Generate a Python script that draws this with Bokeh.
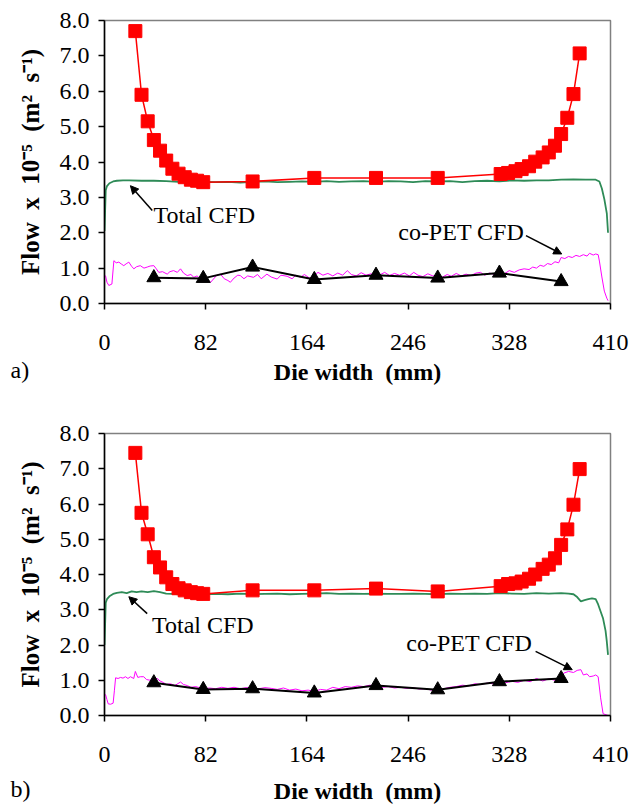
from bokeh.plotting import figure
from bokeh.models import Range1d, FixedTicker, Label, Arrow, NormalHead, Title
from bokeh.layouts import column
from bokeh.embed import file_html
from bokeh.resources import INLINE

# ---------------- data ----------------
x_ticks = [0, 82, 164, 246, 328, 410]
x_tick_labels = ["0", "82", "164", "246", "328", "410"]
y_ticks = [0, 1, 2, 3, 4, 5, 6, 7, 8]
y_tick_labels = ["0.0", "1.0", "2.0", "3.0", "4.0", "5.0", "6.0", "7.0", "8.0"]

# red squares (total flow, experimental)
red_x = [25, 30, 35, 40, 45, 50, 55, 60, 65, 70, 75, 80, 120, 170, 220, 270,
         321, 327, 333, 338, 344, 349, 355, 360, 365, 370, 375, 380, 385]
red_a_y = [7.70, 5.90, 5.15, 4.62, 4.32, 4.04, 3.81, 3.67, 3.57, 3.50, 3.47, 3.43,
           3.45, 3.55, 3.55, 3.55,
           3.66, 3.69, 3.74, 3.80, 3.88, 4.01, 4.13, 4.27, 4.46, 4.79, 5.25, 5.92, 7.07]
red_b_y = [7.45, 5.75, 5.14, 4.49, 4.20, 3.92, 3.73, 3.61, 3.55, 3.50, 3.47, 3.45,
           3.55, 3.55, 3.60, 3.52,
           3.67, 3.73, 3.75, 3.80, 3.88, 4.00, 4.16, 4.28, 4.46, 4.84, 5.28, 5.98, 6.99]

# black triangles (co-PET flow, experimental)
tri_x = [40, 80, 120, 170, 220, 270, 320, 370]
tri_a_y = [0.73, 0.71, 1.03, 0.68, 0.80, 0.72, 0.86, 0.62]
tri_b_y = [0.93, 0.74, 0.76, 0.64, 0.85, 0.73, 0.96, 1.05]

# green line (Total CFD)
green_a_x = [0, 1, 2, 4, 7, 10, 15, 20, 30, 40, 50, 60, 70, 80, 90, 100, 110, 120, 130,
             140, 150, 160, 170, 180, 190, 200, 210, 220, 230, 240, 250, 260, 270, 280,
             290, 300, 310, 320, 330, 340, 350, 360, 370, 380, 390, 398, 401, 403, 405,
             407, 408]
green_a_y = [2.05, 3.20, 3.32, 3.40, 3.45, 3.47, 3.48, 3.48, 3.47, 3.47, 3.46, 3.44, 3.43,
             3.44, 3.43, 3.44, 3.42, 3.44, 3.45, 3.43, 3.44, 3.45, 3.44, 3.46, 3.44, 3.45,
             3.46, 3.44, 3.46, 3.45, 3.43, 3.46, 3.45, 3.46, 3.43, 3.46, 3.47, 3.45, 3.48,
             3.47, 3.48, 3.48, 3.50, 3.51, 3.50, 3.50, 3.45, 3.25, 2.95, 2.55, 2.00]
green_b_x = [0, 1, 2, 4, 7, 10, 14, 18, 22, 26, 30, 35, 40, 45, 50, 55, 60, 70, 80, 90,
             100, 110, 120, 130, 140, 150, 160, 170, 180, 190, 200, 210, 220, 230, 240,
             250, 260, 270, 280, 290, 300, 310, 320, 330, 340, 350, 360, 370, 376, 380,
             383, 386, 389, 392, 395, 398, 400, 402, 404, 406, 407, 408]
green_b_y = [2.00, 3.20, 3.30, 3.38, 3.45, 3.48, 3.50, 3.47, 3.52, 3.50, 3.52, 3.50, 3.53,
             3.50, 3.46, 3.45, 3.44, 3.45, 3.44, 3.45, 3.44, 3.46, 3.44, 3.45, 3.46, 3.44,
             3.45, 3.46, 3.47, 3.45, 3.46, 3.45, 3.46, 3.45, 3.45, 3.46, 3.45, 3.44, 3.46,
             3.45, 3.46, 3.45, 3.47, 3.46, 3.45, 3.47, 3.46, 3.47, 3.46, 3.44, 3.36, 3.24,
             3.27, 3.30, 3.32, 3.30, 3.15, 2.95, 2.75, 2.40, 2.10, 1.72]

# magenta line (co-PET CFD)
mag_a_x = [0.8, 2, 3.5, 6, 7.6, 9.5, 11.6, 13.5, 15.6, 17.5, 19.7, 22, 23.8, 26, 29, 32,
           34.6, 37, 40, 42, 44, 47, 50.8, 53, 56, 59, 61.6, 64, 67, 70, 72.4, 75, 77.8,
           80, 83, 86, 89, 91, 94, 97, 100, 102, 105, 108, 110, 113, 116, 120.7, 124, 127,
           131.6, 135, 139.9, 143, 148, 152, 155, 158.8, 162, 166, 169.5, 173, 177, 181,
           185, 189, 193, 196.7, 200, 204, 208, 212, 216, 220, 223.7, 227, 231, 235, 239,
           243, 247, 250.6, 254, 258, 262, 266, 270, 274, 277.7, 281, 285, 289, 293, 297,
           301, 304.7, 308, 312, 316, 320, 324, 328, 332, 336, 340, 344, 347, 350, 353,
           356, 359, 362, 365, 368, 370, 373, 376, 379, 382, 385, 388, 391, 393, 396, 398,
           400, 401, 403, 405, 407, 408]
mag_a_y = [0.79, 0.60, 0.51, 0.55, 1.21, 1.15, 1.17, 1.12, 1.07, 1.12, 1.17, 1.05, 0.98,
           1.04, 1.07, 1.00, 1.03, 1.06, 1.07, 0.98, 0.88, 0.90, 0.83, 0.90, 0.93, 0.88,
           0.98, 0.86, 0.79, 0.82, 0.74, 0.78, 0.69, 0.75, 0.66, 0.60, 0.72, 0.80, 0.83,
           0.70, 0.65, 0.60, 0.72, 0.80, 0.79, 0.70, 0.78, 0.74, 0.82, 0.70, 0.83, 0.75,
           0.69, 0.80, 0.77, 0.70, 0.80, 0.74, 0.82, 0.72, 0.77, 0.88, 0.80, 0.85, 0.78,
           0.86, 0.80, 0.93, 0.82, 0.78, 0.87, 0.80, 0.84, 0.78, 0.82, 0.88, 0.79, 0.85,
           0.80, 0.86, 0.78, 0.88, 0.80, 0.76, 0.84, 0.78, 0.80, 0.75, 0.82, 0.77, 0.85,
           0.78, 0.83, 0.79, 0.86, 0.88, 0.80, 0.86, 0.82, 0.87, 0.84, 0.93, 0.88, 0.95,
           0.98, 0.96, 1.03, 1.00, 1.08, 1.05, 1.13, 1.10, 1.18, 1.15, 1.30, 1.27, 1.33,
           1.30, 1.36, 1.33, 1.38, 1.34, 1.42, 1.37, 1.40, 1.38, 1.20, 0.75, 0.35, 0.15,
           0.08]
mag_b_x = [0.8, 2, 3, 5, 7, 8, 9, 11, 13, 15, 17, 19, 21, 23.7, 25, 27, 29, 31.8, 34, 37,
           40, 42.7, 45, 48, 50, 53.5, 57, 61.6, 64, 67, 70, 74, 77.8, 81, 85, 90, 95, 100,
           105, 110, 115, 120, 125, 130, 135, 140, 145, 150, 155, 160, 165, 170, 175, 180,
           185, 190, 195, 200, 205, 210, 215, 220, 225, 230, 235, 240, 245, 250, 255, 260,
           265, 270, 275, 280, 285, 290, 295, 300, 305, 310, 315, 320, 325, 330, 335, 340,
           345, 350, 355, 360, 365, 369, 372, 376, 380, 383, 386, 388, 391, 393, 396, 398,
           400, 402, 404, 408]
mag_b_y = [0.60, 0.45, 0.33, 0.32, 0.35, 0.70, 1.07, 1.05, 1.08, 1.06, 1.10, 1.05, 1.10,
           1.05, 1.25, 1.08, 1.10, 1.10, 1.02, 1.00, 1.05, 1.05, 0.98, 0.93, 0.88, 0.90,
           0.85, 0.95, 0.88, 0.85, 0.80, 0.82, 0.78, 0.76, 0.78, 0.76, 0.80, 0.77, 0.80,
           0.76, 0.79, 0.78, 0.76, 0.79, 0.77, 0.74, 0.78, 0.72, 0.75, 0.70, 0.72, 0.68,
           0.74, 0.72, 0.80, 0.76, 0.82, 0.80, 0.84, 0.82, 0.86, 0.83, 0.80, 0.82, 0.78,
           0.80, 0.77, 0.79, 0.75, 0.76, 0.72, 0.74, 0.76, 0.80, 0.82, 0.86, 0.84, 0.90,
           0.88, 0.92, 0.90, 0.95, 0.93, 0.97, 0.94, 1.00, 0.96, 1.05, 0.98, 1.04, 1.00,
           1.07, 1.20, 1.25, 1.22, 1.28, 1.30, 1.15, 1.18, 1.10, 1.12, 1.15, 1.10, 0.50,
           0.05, 0.00]

x_title = "Die width \u00a0(mm)"
y_title = "Flow \u00a0x \u00a010\u207b\u2075 \u00a0(m\u00b2 \u00a0s\u207b\u00b9)"
label_total = "Total CFD"
label_copet = "co-PET CFD"

FONT = "Liberation Serif"


def make_panel(red_y, tri_y, gx, gy, mx, my, panel_tag, xlabel_standoff, top_border,
               bottom_border, total_txt, total_arrow, copet_txt, copet_arrow):
    p = figure(width=630, height=403, output_backend="svg", toolbar_location=None,
               x_range=Range1d(0, 410), y_range=Range1d(0, 8),
               min_border_left=104, min_border_right=20,
               min_border_top=top_border, min_border_bottom=bottom_border)
    p.grid.visible = False
    p.outline_line_color = "#808080"
    p.outline_line_width = 1.5
    p.background_fill_color = "white"
    p.border_fill_color = "white"

    p.line(gx, gy, color="#2e8b57", line_width=1.8)
    p.line(mx, my, color="#ff00ff", line_width=1)
    p.line(tri_x, tri_y, color="black", line_width=2)
    p.scatter(tri_x, tri_y, marker="triangle", size=14, color="black")
    p.line(red_x, red_y, color="#ff0000", line_width=1.5)
    p.scatter(red_x, red_y, marker="square", size=13, color="#ff0000")

    for ax in (p.xaxis[0], p.yaxis[0]):
        ax.axis_line_color = "black"
        ax.axis_line_width = 1.5
        ax.major_tick_line_color = "black"
        ax.major_tick_line_width = 1.5
        ax.major_tick_in = 0
        ax.major_tick_out = 6
        ax.minor_tick_line_color = None
        ax.major_label_text_font = FONT
        ax.major_label_text_font_size = "24px"
        ax.major_label_text_color = "black"
        ax.axis_label_text_font = FONT
        ax.axis_label_text_font_style = "bold"
        ax.axis_label_text_font_size = "24px"
        ax.axis_label_text_color = "black"
    p.yaxis.axis_label_text_font_size = "25px"

    p.xaxis.ticker = FixedTicker(ticks=x_ticks)
    p.xaxis.major_label_overrides = dict(zip(x_ticks, x_tick_labels))
    p.xaxis.major_label_standoff = 25
    p.xaxis.axis_label = x_title
    p.xaxis.axis_label_standoff = xlabel_standoff

    p.yaxis.ticker = FixedTicker(ticks=y_ticks)
    p.yaxis.major_label_overrides = dict(zip(y_ticks, y_tick_labels))
    p.yaxis.major_label_standoff = 9
    p.yaxis.axis_label = y_title
    p.yaxis.axis_label_standoff = 13

    for txt, tpos, apos in ((label_total, total_txt, total_arrow),
                            (label_copet, copet_txt, copet_arrow)):
        p.add_layout(Label(x=tpos[0], y=tpos[1], text=txt, text_font=FONT,
                           text_font_size="24px", text_color="black",
                           text_align="left", text_baseline="middle"))
        p.add_layout(Arrow(x_start=apos[0], y_start=apos[1], x_end=apos[2], y_end=apos[3],
                           line_color="black", line_width=1.5,
                           end=NormalHead(size=8, fill_color="black", line_color="black")))

    p.add_layout(Title(text=panel_tag, align="left", offset=-94, standoff=-62,
                       vertical_align="top", text_font=FONT, text_font_size="24px",
                       text_font_style="normal", text_color="black"), "below")
    return p


p1 = make_panel(red_a_y, tri_a_y, green_a_x, green_a_y, mag_a_x, mag_a_y, "a)", 6, 20, 100,
                (39.7, 2.51), (38.7, 2.63, 21.0, 3.33),
                (238.0, 2.01), (341.5, 1.92, 370.5, 1.40))
p2 = make_panel(red_b_y, tri_b_y, green_b_x, green_b_y, mag_b_x, mag_b_y, "b)", 13, 30, 88,
                (38.5, 2.58), (34.6, 2.89, 19.7, 3.37),
                (244.5, 2.05), (349.3, 1.82, 379.0, 1.30))

layout = column(p1, p2)
open("out.html", "w").write(file_html(layout, INLINE))
